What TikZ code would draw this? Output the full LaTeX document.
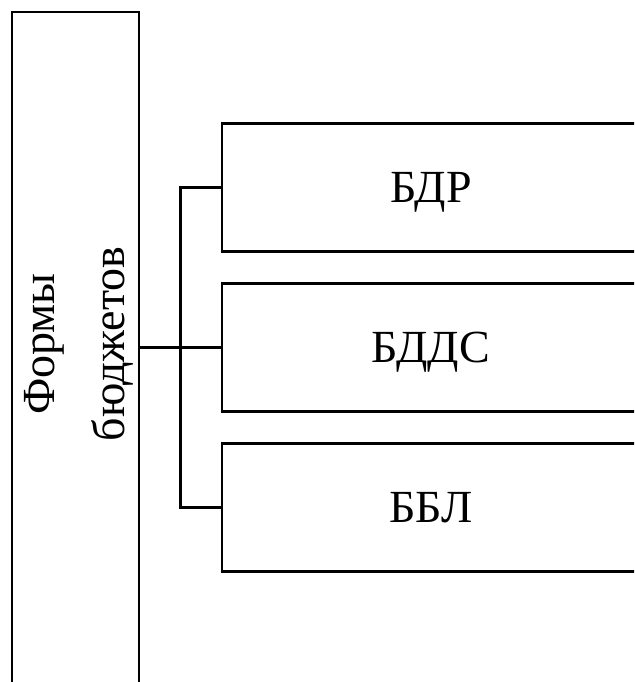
\documentclass[tikz,border=0pt]{standalone}
\usepackage{fontspec}
\setmainfont{Liberation Serif}
\usetikzlibrary{positioning}

\begin{document}
\begin{tikzpicture}[
        x=0.5pt, y=-0.5pt,
        node distance=14.6pt,
        font=\fontsize{23}{35}\selectfont,
        holder/.style={draw, line width=1.4pt, minimum width=63.5pt, minimum height=344pt, inner sep=0pt},
        form/.style={draw, line width=1.4pt, minimum width=209pt, minimum height=64pt, text depth=0pt},
        link/.style={line width=1.4pt, draw=black},
    ]

    \path[use as bounding box, clip] (0,0) rectangle (634,682);

    % Left block
    \node[holder] (forms) at (75.5,356) {};
    \node[rotate=90, align=center, inner sep=0pt] (formslabel) at (79,344) {Формы\\бюджетов};

    % Budget forms
    \node[form] (bdr) at (431,187.5) {БДР};
    \node[form, below=of bdr] (bdds) {БДДС};
    \node[form, below=of bdds] (bbl) {ББЛ};

    % Links
    \coordinate[left=20pt of bdds.west] (fork);
    \draw[link] (forms.east |- bdds.west) -- (bdds.west);
    \draw[link] (bdr.west) -| (fork) |- (bbl.west);

\end{tikzpicture}
\end{document}
